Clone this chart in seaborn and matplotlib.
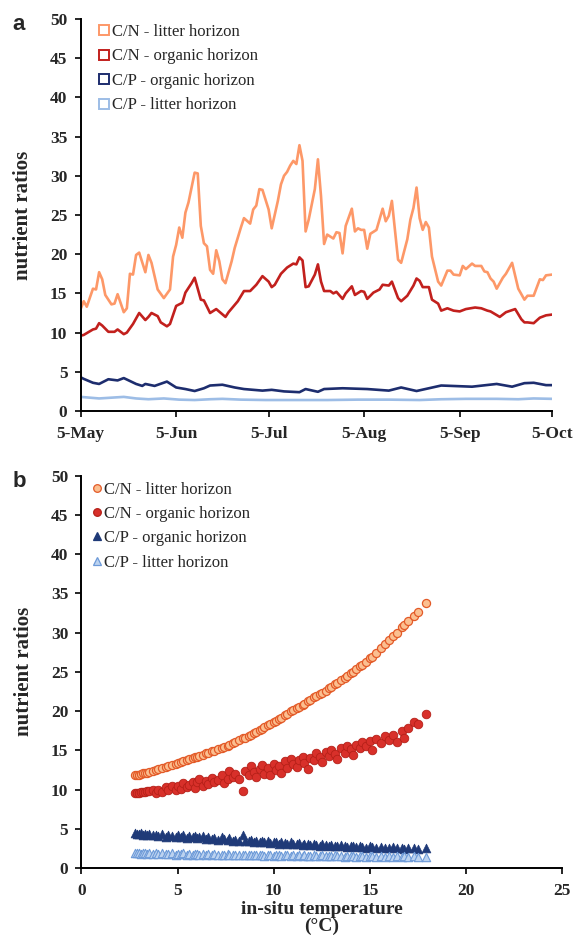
import matplotlib
matplotlib.use("Agg")
import matplotlib.pyplot as plt
from matplotlib.lines import Line2D
import numpy as np
import pandas as pd
import seaborn as sns

# ---------------- panel a: daily nutrient ratios (days after 5 May) ----------------
cn_litter_day = [0, 1, 2, 4, 5, 6, 7, 8, 10, 11, 12, 14, 15, 16, 17, 18, 19, 21, 22, 23,
                 25, 27, 29, 30, 31, 32, 33, 34, 35, 37, 38, 39, 40, 41, 42, 43, 44, 45, 46, 47,
                 49, 50, 52, 53, 55, 56, 57, 58, 59, 61, 62, 64, 65, 66, 67, 68, 69, 70, 71, 72,
                 73, 74, 76, 77, 78, 79, 80, 82, 83, 84, 85, 86, 88, 89, 90, 91, 92, 93, 94, 96,
                 98, 99, 100, 101, 103, 104, 106, 107, 108, 109, 110, 111, 112, 113, 114, 116, 117, 119, 120, 121,
                 123, 124, 125, 127, 128, 130, 131, 132, 133, 134, 135, 137, 138, 140, 142, 144, 145, 147, 149, 150,
                 151, 153]
cn_litter = [13.0, 14.0, 13.3, 15.6, 15.5, 17.7, 16.8, 14.8, 13.6, 13.7, 14.9, 12.6, 13.1, 17.5, 17.4, 19.9, 20.2, 17.7, 19.9, 18.9,
             15.5, 14.4, 15.5, 19.7, 21.2, 23.4, 22.1, 25.3, 26.6, 30.4, 30.3, 23.6, 21.4, 21.0, 18.0, 17.5, 20.5, 19.1, 16.8, 16.3,
             19.1, 20.8, 23.4, 24.6, 23.9, 25.7, 26.2, 28.3, 28.2, 25.7, 23.3, 26.8, 28.9, 30.0, 30.5, 31.3, 31.9, 31.5, 33.9, 31.9,
             22.9, 24.4, 28.3, 32.1, 27.4, 21.3, 22.5, 22.0, 22.8, 22.7, 20.1, 23.6, 25.8, 22.9, 23.3, 23.1, 23.1, 20.7, 22.6, 23.1,
             25.8, 24.2, 24.9, 26.8, 19.3, 18.9, 21.9, 24.4, 25.9, 28.5, 24.6, 23.1, 24.1, 23.4, 19.7, 16.5, 16.0, 17.9, 17.9, 17.4,
             17.3, 18.5, 18.1, 18.8, 18.5, 18.5, 17.8, 17.7, 16.9, 16.5, 15.6, 17.0, 17.5, 18.9, 15.6, 14.2, 14.7, 14.7, 16.8, 16.7,
             17.3, 17.4]

cn_organic_day = [0, 1, 4, 5, 6, 7, 9, 11, 12, 13, 14, 15, 17, 19, 21, 22, 23, 25, 26, 28,
                  29, 31, 33, 34, 36, 37, 39, 40, 42, 44, 47, 48, 51, 53, 55, 57, 59, 61, 62, 63,
                  65, 67, 69, 70, 71, 72, 73, 74, 76, 77, 78, 79, 81, 82, 83, 85, 86, 88, 89, 91,
                  92, 93, 95, 97, 98, 100, 101, 103, 104, 106, 108, 109, 110, 111, 113, 114, 116, 117, 119, 121,
                  123, 125, 128, 130, 132, 133, 136, 138, 141, 143, 144, 145, 147, 149, 151, 153]
cn_organic = [9.6, 9.7, 10.4, 10.5, 11.2, 10.9, 10.1, 10.1, 10.4, 10.1, 9.8, 10.0, 11.1, 12.5, 11.6, 12.0, 12.5, 12.1, 11.3, 10.8,
              11.1, 13.4, 13.8, 15.1, 16.3, 17.0, 14.2, 14.1, 12.5, 13.0, 12.0, 12.6, 14.0, 15.3, 15.3, 16.1, 17.2, 16.5, 15.8, 16.1,
              17.5, 18.3, 18.8, 18.7, 19.6, 19.2, 15.8, 15.9, 17.4, 18.7, 16.5, 15.3, 15.3, 15.0, 15.2, 14.3, 15.0, 15.9, 14.8, 15.3,
              15.2, 14.3, 15.1, 15.5, 16.1, 16.0, 16.5, 14.4, 14.0, 14.7, 16.0, 16.9, 16.6, 15.8, 15.8, 14.2, 13.7, 12.8, 13.1, 12.8,
              12.7, 13.0, 13.2, 13.1, 12.8, 12.7, 12.0, 12.6, 13.0, 11.7, 11.3, 11.3, 11.2, 11.9, 12.2, 12.3]

cp_organic_day = [0, 1, 4, 6, 9, 12, 14, 18, 20, 21, 24, 28, 31, 34, 37, 40, 42, 46, 50, 53,
                  59, 62, 66, 71, 73, 77, 79, 85, 93, 100, 104, 109, 117, 127, 135, 140, 144, 147, 151, 153]
cp_organic = [4.3, 4.1, 3.6, 3.45, 4.05, 3.9, 4.2, 3.45, 3.2, 3.45, 3.2, 3.75, 3.0, 2.8, 2.55, 2.9, 3.25, 3.35, 3.0, 2.8,
              2.6, 2.7, 2.5, 2.4, 2.8, 2.45, 2.8, 2.9, 2.8, 2.6, 3.0, 2.55, 3.25, 3.1, 3.45, 3.1, 3.55, 3.6, 3.3, 3.3]

cp_litter_day = [0, 3, 6, 10, 14, 18, 22, 27, 32, 37, 42, 46, 52, 60, 70, 80, 90, 100, 110, 117,
                 125, 135, 142, 147, 153]
cp_litter = [1.8, 1.7, 1.6, 1.7, 1.8, 1.6, 1.5, 1.6, 1.45, 1.4, 1.5, 1.55, 1.45, 1.4, 1.4, 1.4, 1.45, 1.45, 1.4, 1.5,
             1.55, 1.55, 1.5, 1.6, 1.55]

date_ticks = ["2010-05-05", "2010-06-05", "2010-07-05", "2010-08-05", "2010-09-05", "2010-10-05"]
date_tick_labels = ["5-May", "5-Jun", "5-Jul", "5-Aug", "5-Sep", "5-Oct"]

# ---------------- panel b: ratios against in-situ soil temperature ----------------
temperature = [2.8, 2.9, 3.0, 3.1, 3.2, 3.3, 3.4, 3.5, 3.7, 3.9,
               4.0, 4.2, 4.4, 4.5, 4.7, 4.9, 5.0, 5.2, 5.3, 5.5,
               5.6, 5.8, 5.9, 6.0, 6.1, 6.3, 6.5, 6.6, 6.8, 6.9,
               7.1, 7.3, 7.4, 7.6, 7.7, 7.9, 8.0, 8.2, 8.4, 8.5,
               8.7, 8.8, 9.0, 9.1, 9.3, 9.4, 9.5, 9.7, 9.8, 10.0,
               10.1, 10.3, 10.4, 10.6, 10.7, 10.9, 11.0, 11.2, 11.3, 11.5,
               11.6, 11.8, 11.9, 12.1, 12.2, 12.4, 12.5, 12.7, 12.9, 13.0,
               13.2, 13.3, 13.5, 13.7, 13.8, 14.0, 14.1, 14.3, 14.5, 14.6,
               14.8, 15.0, 15.1, 15.3, 15.6, 15.8, 16.0, 16.2, 16.4, 16.7,
               16.8, 17.0, 17.3, 17.5, 17.9]
cn_litter_t = [11.8, 11.85, 11.9, 12.0, 12.05, 12.1, 12.15, 12.2, 12.35, 12.5,
               12.6, 12.75, 12.9, 13.0, 13.15, 13.3, 13.4, 13.55, 13.65, 13.8,
               13.9, 14.05, 14.15, 14.2, 14.3, 14.45, 14.6, 14.7, 14.85, 14.9,
               15.1, 15.3, 15.4, 15.6, 15.7, 15.9, 16.0, 16.25, 16.5, 16.6,
               16.85, 16.95, 17.2, 17.35, 17.6, 17.75, 17.9, 18.2, 18.3, 18.6,
               18.75, 19.0, 19.15, 19.45, 19.6, 19.95, 20.1, 20.4, 20.5, 20.8,
               20.95, 21.3, 21.45, 21.75, 21.9, 22.15, 22.3, 22.6, 22.95, 23.1,
               23.4, 23.6, 23.9, 24.25, 24.45, 24.8, 25.0, 25.35, 25.7, 25.9,
               26.3, 26.7, 26.9, 27.35, 28.05, 28.5, 29.0, 29.5, 29.95, 30.7,
               30.95, 31.5, 32.15, 32.6, 33.8]
cn_organic_t = [9.5, 9.55, 9.6, 9.65, 9.7, 9.7, 9.75, 9.8, 9.9, 9.6,
                10.0, 9.7, 10.3, 10.0, 10.4, 9.9, 10.5, 10.1, 10.8, 10.3,
                10.6, 11.0, 10.2, 10.9, 11.3, 10.5, 11.1, 10.7, 11.5, 10.9,
                11.2, 11.8, 10.8, 11.4, 12.3, 11.6, 12.0, 11.3, 9.8, 12.4,
                11.9, 13.0, 12.2, 11.6, 12.6, 13.1, 12.0, 12.8, 11.9, 13.3,
                12.5, 13.0, 12.1, 13.6, 12.8, 13.9, 13.2, 12.9, 13.8, 14.2,
                13.4, 12.6, 14.0, 13.7, 14.6, 14.1, 13.5, 14.8, 14.3, 15.0,
                14.5, 13.9, 15.3, 14.7, 15.6, 15.1, 14.4, 15.7, 15.3, 16.0,
                15.5, 16.2, 15.0, 16.4, 15.9, 16.8, 16.3, 16.9, 16.1, 17.4,
                16.6, 17.8, 18.6, 18.3, 19.6]
cp_organic_t = [4.4, 4.35, 4.3, 4.4, 4.25, 4.3, 4.2, 4.3, 4.15, 4.25,
                4.1, 4.3, 4.0, 4.2, 4.1, 3.9, 4.15, 4.0, 4.2, 3.85,
                4.05, 3.9, 4.1, 3.8, 3.95, 4.05, 3.75, 3.9, 3.7, 3.85,
                3.6, 3.95, 3.7, 3.55, 3.8, 3.5, 3.6, 3.45, 4.2, 3.5,
                3.4, 3.55, 3.35, 3.5, 3.3, 3.45, 3.25, 3.4, 3.2, 3.35,
                3.25, 3.1, 3.3, 3.2, 3.05, 3.25, 3.1, 3.0, 3.15, 2.95,
                3.1, 3.0, 2.9, 3.05, 2.95, 2.85, 3.0, 2.9, 2.8, 2.95,
                2.85, 2.75, 2.9, 2.8, 2.7, 2.85, 2.75, 2.65, 2.8, 2.7,
                2.6, 2.75, 2.65, 2.55, 2.7, 2.6, 2.5, 2.65, 2.55, 2.6,
                2.45, 2.55, 2.5, 2.45, 2.5]
cp_litter_t = [1.9, 1.85, 1.95, 1.8, 1.9, 1.85, 1.8, 1.9, 1.8, 1.85,
               1.75, 1.85, 1.8, 1.75, 1.85, 1.7, 1.8, 1.75, 1.85, 1.7,
               1.8, 1.7, 1.75, 1.8, 1.7, 1.75, 1.65, 1.8, 1.7, 1.75,
               1.65, 1.7, 1.6, 1.75, 1.65, 1.7, 1.6, 1.7, 1.65, 1.6,
               1.7, 1.6, 1.65, 1.7, 1.6, 1.65, 1.55, 1.65, 1.6, 1.55,
               1.65, 1.6, 1.55, 1.6, 1.65, 1.55, 1.6, 1.5, 1.6, 1.55,
               1.6, 1.5, 1.55, 1.6, 1.5, 1.55, 1.6, 1.5, 1.55, 1.5,
               1.6, 1.5, 1.55, 1.45, 1.55, 1.5, 1.55, 1.45, 1.5, 1.55,
               1.45, 1.5, 1.55, 1.45, 1.5, 1.45, 1.5, 1.45, 1.5, 1.45,
               1.5, 1.45, 1.5, 1.4, 1.45]

labels = ["C/N - litter horizon", "C/N - organic horizon", "C/P - organic horizon", "C/P - litter horizon"]
line_colors = ["#fd9868", "#c2201d", "#1d2d6e", "#9dbde6"]

# ---------------- style ----------------
sns.set_style("ticks")
plt.rcParams["font.family"] = ["Liberation Serif", "DejaVu Serif"]
plt.rcParams["axes.linewidth"] = 1.4
plt.rcParams["xtick.major.width"] = 1.4
plt.rcParams["ytick.major.width"] = 1.4
plt.rcParams["xtick.major.size"] = 4
plt.rcParams["ytick.major.size"] = 4
plt.rcParams["xtick.major.pad"] = 7
plt.rcParams["ytick.major.pad"] = 5.5
plt.rcParams["axes.edgecolor"] = "black"

fig = plt.figure(figsize=(5.8, 9.39), dpi=100)
ax_a = fig.add_axes([0.139, 0.5623, 0.813, 0.4175])
ax_b = fig.add_axes([0.1405, 0.0756, 0.8285, 0.418])

tick_font = dict(fontsize=12.5, fontweight="bold")

# ---------------- panel a ----------------
start = pd.Timestamp("2010-05-05")
frames = []
for lab, d, v in zip(labels,
                     [cn_litter_day, cn_organic_day, cp_organic_day, cp_litter_day],
                     [cn_litter, cn_organic, cp_organic, cp_litter]):
    frames.append(pd.DataFrame({"date": start + pd.to_timedelta(d, unit="D"),
                                "ratio": v, "series": lab}))
df_a = pd.concat(frames, ignore_index=True)

sns.lineplot(data=df_a, x="date", y="ratio", hue="series", hue_order=labels,
             palette=line_colors, estimator=None, linewidth=1.9, legend=False, ax=ax_a)

ax_a.set_xlim(start, start + pd.Timedelta(days=153))
ax_a.set_ylim(0, 50)
ax_a.set_yticks(np.arange(0, 51, 5))
ax_a.set_xticks(pd.to_datetime(date_ticks))
ax_a.set_xticklabels(date_tick_labels, **tick_font)
ax_a.set_yticklabels([str(t) for t in range(0, 51, 5)], **tick_font)
ax_a.set_xlabel("")
ax_a.set_ylabel("nutrient ratios", fontsize=15, fontweight="bold", labelpad=12)
sns.despine(ax=ax_a)

handles_a = [Line2D([], [], linestyle="none", marker="s", markersize=6.5,
                    markerfacecolor="white", markeredgecolor=c, markeredgewidth=1.4)
             for c in line_colors]
ax_a.legend(handles_a, labels, loc="upper left", bbox_to_anchor=(0.018, 1.013),
            frameon=False, fontsize=12, handlelength=0.6, handletextpad=0.15,
            labelspacing=0.51, borderaxespad=0.2)

# ---------------- panel b ----------------
df_b = pd.DataFrame({"temperature": temperature,
                     labels[0]: cn_litter_t, labels[1]: cn_organic_t,
                     labels[2]: cp_organic_t, labels[3]: cp_litter_t})

point_styles = [
    dict(marker="o", s=34, color="#fbbf90", edgecolor="#e35a28", linewidth=0.9),
    dict(marker="o", s=38, color="#d8302a", edgecolor="#b52018", linewidth=0.6),
    dict(marker="^", s=40, color="#1f3a78", edgecolor="#1f3a78", linewidth=0.5),
    dict(marker="^", s=36, color="#bcd3f0", edgecolor="#6d9ad8", linewidth=0.8),
]
for lab, st in zip(labels, point_styles):
    sns.scatterplot(data=df_b, x="temperature", y=lab, ax=ax_b, legend=False, **st)

ax_b.set_xlim(0, 25)
ax_b.set_ylim(0, 50)
ax_b.set_xticks(np.arange(0, 26, 5))
ax_b.set_yticks(np.arange(0, 51, 5))
ax_b.set_xticklabels([str(t) for t in range(0, 26, 5)], **tick_font)
ax_b.set_yticklabels([str(t) for t in range(0, 51, 5)], **tick_font)
ax_b.set_xlabel("in-situ temperature\n(°C)", fontsize=14, fontweight="bold", labelpad=1,
                linespacing=1.0)
ax_b.set_ylabel("nutrient ratios", fontsize=15, fontweight="bold", labelpad=12)
sns.despine(ax=ax_b)

handles_b = [Line2D([], [], linestyle="none", marker=st["marker"], markersize=5.5,
                    markerfacecolor=st["color"], markeredgecolor=st["edgecolor"],
                    markeredgewidth=0.9)
             for st in point_styles]
ax_b.legend(handles_b, labels, loc="upper left", bbox_to_anchor=(0.001, 1.01),
            frameon=False, fontsize=12, handlelength=0.6, handletextpad=0.15,
            labelspacing=0.5, borderaxespad=0.2)

# panel letters
fig.text(0.022, 0.985, "a", fontsize=16, fontweight="bold", family="Liberation Sans",
         va="top", ha="left")
fig.text(0.022, 0.498, "b", fontsize=16, fontweight="bold", family="Liberation Sans",
         va="top", ha="left")

fig.savefig("out.png", dpi=100)
